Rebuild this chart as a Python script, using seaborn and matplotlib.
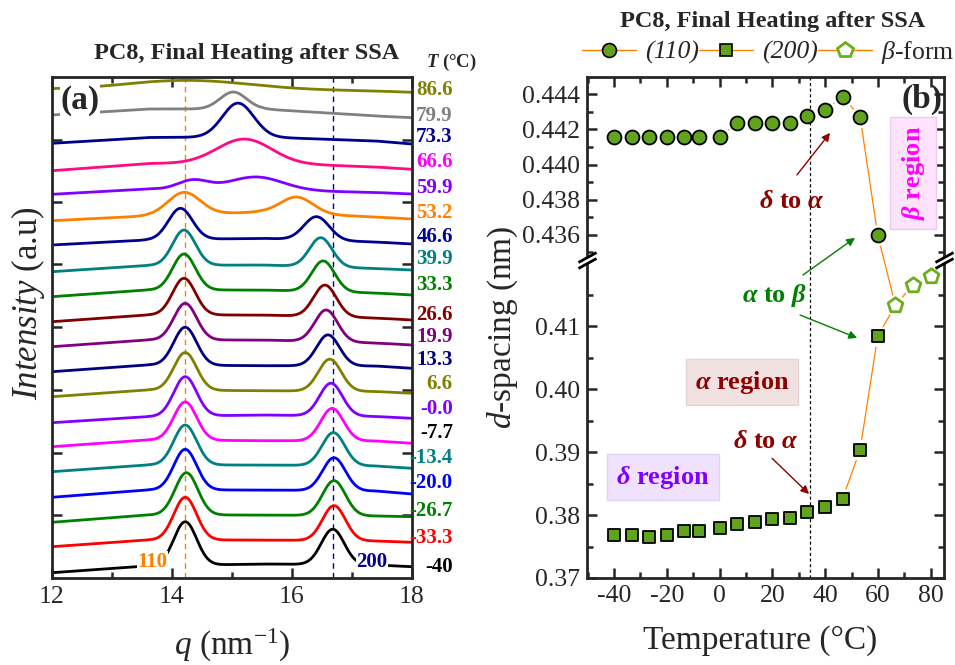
import numpy as np
import pandas as pd
import matplotlib
matplotlib.use("Agg")
import matplotlib.pyplot as plt
import seaborn as sns
from matplotlib.lines import Line2D
from matplotlib.ticker import MultipleLocator, FormatStrFormatter, FixedLocator

# ---------------- Panel (a): WAXS profiles ----------------
temps_a = ['86.6', '79.9', '73.3', '66.6', '59.9', '53.2', '46.6', '39.9', '33.3', '26.6',
           '19.9', '13.3', '6.6', '-0.0', '-7.7', '-13.4', '-20.0', '-26.7', '-33.3', '-40']
line_colors = ['#808000', '#808080', '#000090', '#FF0A84', '#8000FF', '#FF8000', '#000090', '#008080',
               '#008000', '#800000', '#800080', '#000080', '#808000', '#8000FF', '#FF00FF', '#008080',
               '#0000FF', '#008000', '#FF0000', '#000000']
label_colors = ['#808000', '#808080', '#000090', '#FF00FF', '#8000FF', '#FF8000', '#000090', '#008080',
                '#008000', '#800000', '#800080', '#000080', '#808000', '#8000FF', '#000000', '#008080',
                '#0000FF', '#008000', '#FF0000', '#000000']
# baseline intensity (a.u.) at the knots below, per curve
base_q = [12.0, 13.6, 15.5, 17.4, 18.0]
base_I = [
    [489.0, 490.0, 489.0, 487.0, 485.7],
    [463.0, 469.0, 469.0, 462.0, 460.3],
    [434.7, 440.5, 441.0, 437.0, 434.0],
    [407.3, 414.5, 415.0, 411.0, 408.7],
    [383.7, 389.0, 388.0, 385.5, 384.0],
    [357.3, 362.0, 366.0, 361.0, 359.0],
    [333.0, 338.0, 339.7, 336.0, 334.0],
    [306.3, 312.5, 313.0, 309.5, 308.0],
    [281.3, 288.0, 288.0, 285.0, 283.0],
    [256.3, 263.0, 263.0, 260.0, 258.0],
    [231.3, 238.0, 238.0, 235.0, 233.0],
    [206.3, 213.0, 212.3, 212.0, 209.7],
    [181.3, 188.0, 187.3, 186.5, 184.7],
    [155.3, 161.3, 163.0, 161.5, 159.7],
    [131.3, 138.0, 137.3, 137.0, 134.7],
    [106.3, 113.0, 113.0, 112.0, 109.7],
    [80.7, 88.0, 88.0, 87.0, 84.0],
    [55.7, 63.0, 63.0, 62.0, 61.3],
    [31.3, 38.0, 38.0, 37.0, 35.7],
    [5.3, 12.0, 14.0, 13.0, 11.3],
]
# first peak: position (nm^-1), height (a.u.), width (nm^-1)
peakA_q = [14.30, 15.02, 15.10, 15.20, 14.35, 14.20, 14.14, 14.20, 14.20, 14.20,
           14.22, 14.22, 14.22, 14.22, 14.22, 14.22, 14.22, 14.24, 14.22, 14.22]
peakA_h = [8.0, 17.0, 34.0, 24.0, 9.0, 22.4, 31.2, 35.3, 36.0, 36.7,
           36.7, 38.0, 37.7, 39.5, 38.3, 40.0, 40.7, 42.3, 42.7, 43.6]
peakA_w = [0.95, 0.22, 0.26, 0.45, 0.25, 0.27, 0.20, 0.19, 0.19, 0.19,
           0.19, 0.19, 0.19, 0.19, 0.19, 0.19, 0.19, 0.19, 0.19, 0.19]
# second peak
peakB_q = [16.0, 16.0, 16.0, 16.0, 15.40, 16.08, 16.41, 16.48, 16.52, 16.55,
           16.57, 16.60, 16.63, 16.65, 16.67, 16.69, 16.70, 16.70, 16.70, 16.68]
peakB_h = [0.0, 0.0, 0.0, 0.0, 13.0, 16.5, 23.4, 29.1, 30.7, 31.6,
           31.7, 31.0, 32.0, 32.7, 32.5, 33.0, 32.9, 35.0, 35.0, 35.4]
peakB_w = [0.2, 0.2, 0.2, 0.2, 0.45, 0.27, 0.21, 0.19, 0.19, 0.19,
           0.19, 0.19, 0.19, 0.19, 0.19, 0.19, 0.19, 0.19, 0.19, 0.19]
label_I = [488, 462, 441, 416, 390, 365, 341, 319, 293, 263,
           241, 218, 194, 169, 145, 120, 95, 67, 40, 11]
q110_ref = 14.22
q200_ref = 16.69

# ---------------- Panel (b): d-spacing ----------------
T_b = [-40.0, -33.3, -26.7, -20.0, -13.4, -7.7, 0.0, 6.6, 13.3, 19.9, 26.6, 33.3, 39.9, 46.6, 53.2, 59.9]
d110 = [0.44159, 0.44159, 0.44159, 0.44159, 0.44159, 0.44159, 0.44159, 0.44235, 0.44235, 0.44235,
        0.44235, 0.44275, 0.44311, 0.44387, 0.44273, 0.43600]
d200 = [0.37684, 0.37684, 0.37657, 0.37684, 0.37742, 0.37742, 0.37800, 0.37858, 0.37885, 0.37938,
        0.37960, 0.38044, 0.38129, 0.38261, 0.39030, 0.40840]
T_beta = [66.6, 73.3, 79.9]
d_beta = [0.41329, 0.41657, 0.41790]
T_transition = 34.3

# ---------------- style ----------------
sns.set_style("ticks")
plt.rcParams['font.family'] = ['Liberation Serif', 'DejaVu Serif']
plt.rcParams['mathtext.fontset'] = 'custom'
plt.rcParams['mathtext.rm'] = 'Liberation Serif'
plt.rcParams['mathtext.it'] = 'Liberation Serif:italic'
plt.rcParams['mathtext.bf'] = 'Liberation Serif:bold'
plt.rcParams['mathtext.sf'] = 'Liberation Serif:italic:bold'
plt.rcParams['axes.unicode_minus'] = False

W, H = 955, 665
fig = plt.figure(figsize=(W / 100, H / 100), dpi=100)


def rect(x0, y0, x1, y1):
    return [x0 / W, 1 - y1 / H, (x1 - x0) / W, (y1 - y0) / H]


ax_a = fig.add_axes(rect(52, 77, 412, 578))
ax_up = fig.add_axes(rect(587, 77, 944, 260))
ax_lo = fig.add_axes(rect(587, 260, 944, 578))

ORANGE = '#FF8000'
GREEN = '#62A31E'
GREEN2 = '#6AAE1E'
DRED = '#8B0000'
TICKFS = 18.5

# ---------------- panel (a) ----------------
q = np.linspace(12, 18, 601)
rows = []
for i, t in enumerate(temps_a):
    I = np.interp(q, base_q, base_I[i])
    I = I + peakA_h[i] * np.exp(-0.5 * ((q - peakA_q[i]) / peakA_w[i]) ** 2)
    I = I + peakB_h[i] * np.exp(-0.5 * ((q - peakB_q[i]) / peakB_w[i]) ** 2)
    rows.append(pd.DataFrame({'q': q, 'I': I, 'T': t}))
df_a = pd.concat(rows, ignore_index=True)
sns.lineplot(data=df_a, x='q', y='I', hue='T', hue_order=temps_a,
             palette=dict(zip(temps_a, line_colors)), estimator=None, sort=False,
             lw=2.0, legend=False, ax=ax_a)
ax_a.axvline(q110_ref, color=ORANGE, ls=(0, (4, 3)), lw=1.0, zorder=1)
ax_a.axvline(q200_ref, color='#00008B', ls=(0, (4, 3)), lw=1.0, zorder=1)
ax_a.set_xlim(12, 18)
ax_a.set_ylim(0, 501)
ax_a.set_xlabel('')
ax_a.set_ylabel('')
ax_a.xaxis.set_major_locator(MultipleLocator(2))
ax_a.xaxis.set_minor_locator(MultipleLocator(1))
ax_a.yaxis.set_major_locator(FixedLocator([63, 125, 188, 251, 314, 376, 438]))
ax_a.set_yticklabels([])
ax_a.tick_params(axis='both', which='both', direction='in', top=True, right=True, width=1.8)
ax_a.tick_params(axis='both', which='major', length=7, labelsize=TICKFS, pad=6)
ax_a.tick_params(axis='both', which='minor', length=4)
for s in ax_a.spines.values():
    s.set_linewidth(2.0)

for t, yv, c in zip(temps_a, label_I, label_colors):
    ax_a.text(18.68, yv, t, color=c, ha='right', va='center', fontsize=15,
              fontweight='bold', clip_on=False)
ax_a.text(13.68, 16, '110', color=ORANGE, ha='center', va='center', fontsize=15, fontweight='bold',
          bbox=dict(facecolor='white', edgecolor='none', pad=0.5), zorder=5)
ax_a.text(17.33, 16, '200', color='#00008B', ha='center', va='center', fontsize=15, fontweight='bold',
          bbox=dict(facecolor='white', edgecolor='none', pad=0.5), zorder=5)
ax_a.text(12.47, 478, '(a)', ha='center', va='center', fontsize=24, fontweight='bold',
          bbox=dict(facecolor='white', edgecolor='none', pad=0.5), zorder=5)

fig.text(247 / W, 1 - 53 / H, 'PC8, Final Heating after SSA', ha='center', va='center',
         fontsize=17.5, fontweight='bold')
fig.text(451 / W, 1 - 62 / H, r'$\mathsf{T}$ (°C)', ha='center', va='center', fontsize=13.5,
         fontweight='bold')
fig.text(232 / W, 1 - 645 / H, r'$\mathit{q}$ (nm$^{\mathrm{-1}}$)', ha='center', va='center', fontsize=24)
fig.text(28 / W, 1 - 303 / H, r'$\mathit{Intensity}$ (a.u)', ha='center', va='center', fontsize=25,
         rotation=90)

# ---------------- panel (b) ----------------
ylim_up = (0.43457, 0.44498)
ylim_lo = (0.37, 0.42048)
for ax in (ax_up, ax_lo):
    ax.set_xlim(-50.2, 85.0)
ax_up.set_ylim(*ylim_up)
ax_lo.set_ylim(*ylim_lo)

# convert points across the broken axis so the joining segment is straight on screen
pent0_in_up = ax_up.transData.inverted().transform(ax_lo.transData.transform((T_beta[0], d_beta[0])))
circ_last_in_lo = ax_lo.transData.inverted().transform(ax_up.transData.transform((T_b[-1], d110[-1])))

line_kw = dict(color=ORANGE, lw=0.9, estimator=None, sort=False, legend=False, zorder=2)
sns.lineplot(x=T_b + [pent0_in_up[0]], y=d110 + [pent0_in_up[1]], ax=ax_up, **line_kw)
sns.lineplot(x=T_b + [T_beta[0]], y=d200 + [d_beta[0]], ax=ax_lo, **line_kw)
sns.lineplot(x=[circ_last_in_lo[0], T_beta[0]], y=[circ_last_in_lo[1], d_beta[0]], ax=ax_lo, **line_kw)
sns.lineplot(x=T_beta, y=d_beta, ax=ax_lo, **line_kw)

# white halos give the gap between line and symbol
halo = dict(marker='o', s=230, color='white', linewidth=0, zorder=3, legend=False)
sns.scatterplot(x=T_b, y=d110, ax=ax_up, **halo)
sns.scatterplot(x=T_b, y=d200, ax=ax_lo, **halo)
sns.scatterplot(x=T_beta, y=d_beta, ax=ax_lo, **halo)

for ax in (ax_up, ax_lo):
    ax.axvline(T_transition, color='black', ls=(0, (2.5, 2)), lw=0.9, zorder=3.5)

sns.scatterplot(x=T_b, y=d110, ax=ax_up, marker='o', s=100, color=GREEN, edgecolor='black',
                linewidth=1.3, zorder=4, legend=False)
sns.scatterplot(x=T_b, y=d200, ax=ax_lo, marker='s', s=80, color=GREEN, edgecolor='black',
                linewidth=1.3, zorder=4, legend=False)
sns.scatterplot(x=T_beta, y=d_beta, ax=ax_lo, marker='p', s=125, color='white', edgecolor=GREEN2,
                linewidth=2.0, zorder=4, legend=False)

ax_up.set_ylim(*ylim_up)
ax_lo.set_ylim(*ylim_lo)
for ax in (ax_up, ax_lo):
    ax.set_xlim(-50.2, 85.0)
    ax.set_xlabel('')
    ax.set_ylabel('')
    ax.xaxis.set_major_locator(MultipleLocator(20))
    ax.xaxis.set_minor_locator(MultipleLocator(10))
    for s in ax.spines.values():
        s.set_linewidth(2.0)

ax_up.yaxis.set_major_locator(MultipleLocator(0.002))
ax_up.yaxis.set_minor_locator(MultipleLocator(0.001))
ax_up.yaxis.set_major_formatter(FormatStrFormatter('%.3f'))
ax_up.spines['bottom'].set_visible(False)
ax_up.tick_params(axis='x', which='both', direction='in', bottom=False, top=True,
                  labelbottom=False, labeltop=False, width=1.8)
ax_up.tick_params(axis='y', which='both', direction='in', left=True, right=True, width=1.8)

ax_lo.yaxis.set_major_locator(FixedLocator([0.37, 0.38, 0.39, 0.40, 0.41]))
ax_lo.yaxis.set_minor_locator(FixedLocator([0.375, 0.385, 0.395, 0.405, 0.415]))
ax_lo.yaxis.set_major_formatter(FormatStrFormatter('%.2f'))
ax_lo.spines['top'].set_visible(False)
ax_lo.tick_params(axis='x', which='both', direction='in', bottom=True, top=False, width=1.8)
ax_lo.tick_params(axis='y', which='both', direction='in', left=True, right=True, width=1.8)
for ax in (ax_up, ax_lo):
    ax.tick_params(which='major', length=7, labelsize=TICKFS, pad=5)
    ax.tick_params(which='minor', length=4)

# break marks
off = 0.011
for xa in (0, 1):
    ax_lo.plot([xa, xa], [1 - off * 0.9, 1 + off * 0.9], transform=ax_lo.transAxes, color='white',
               lw=4, clip_on=False, zorder=10, solid_capstyle='butt')
    for yo in (-off, off):
        ax_lo.plot([xa], [1 + yo], transform=ax_lo.transAxes, marker=[(-1, -0.55), (1, 0.55)],
                   markersize=13, mew=2.0, color='black', linestyle='none', clip_on=False, zorder=11)

# annotations
ax_up.text(76.7, 0.44373, '(b)', ha='center', va='center', fontsize=24, fontweight='bold', zorder=6)
ax_up.text(73.3, 0.43952, r'$\mathsf{β}$ region', rotation=90, ha='center', va='center', fontsize=19,
           fontweight='bold', color='#FF00FF', zorder=6,
           bbox=dict(boxstyle='square,pad=0.35', facecolor='#FFE2FC', edgecolor='#F2C8F0', lw=1))
ax_up.annotate('', xy=(41.85, 0.4418), xytext=(29.3, 0.43941),
               arrowprops=dict(arrowstyle='-|>', color=DRED, lw=1.0, mutation_scale=12, shrinkA=0, shrinkB=0),
               zorder=6)
ax_up.text(27.45, 0.43788, r'$\mathsf{δ}$ to $\mathsf{α}$', ha='center', va='center', fontsize=19,
           fontweight='bold', color=DRED, zorder=6)

ax_lo.text(21.0, 0.4149, r'$\mathsf{α}$ to $\mathsf{β}$', ha='center', va='center', fontsize=19,
           fontweight='bold', color='#008000', zorder=6)
ax_lo.annotate('', xy=(51.3, 0.43583), xycoords=ax_up.transData, xytext=(31.6, 0.4181), textcoords='data',
               arrowprops=dict(arrowstyle='-|>', color='#008000', lw=1.0, mutation_scale=12, shrinkA=0, shrinkB=0),
               zorder=6)
ax_lo.annotate('', xy=(52.1, 0.4081), xytext=(30.5, 0.41175),
               arrowprops=dict(arrowstyle='-|>', color='#008000', lw=1.0, mutation_scale=12, shrinkA=0, shrinkB=0),
               zorder=6)
ax_lo.text(8.5, 0.40111, r'$\mathsf{α}$ region', ha='center', va='center', fontsize=19, fontweight='bold',
           color=DRED, zorder=6,
           bbox=dict(boxstyle='square,pad=0.35', facecolor='#F1E2E1', edgecolor='#E6D2D2', lw=1))
ax_lo.text(17.6, 0.39159, r'$\mathsf{δ}$ to $\mathsf{α}$', ha='center', va='center', fontsize=19,
           fontweight='bold', color=DRED, zorder=6)
ax_lo.annotate('', xy=(33.9, 0.38333), xytext=(19.9, 0.3890),
               arrowprops=dict(arrowstyle='-|>', color=DRED, lw=1.0, mutation_scale=12, shrinkA=0, shrinkB=0),
               zorder=6)
ax_lo.text(-21.4, 0.38603, r'$\mathsf{δ}$ region', ha='center', va='center', fontsize=19, fontweight='bold',
           color='#8000FF', zorder=6,
           bbox=dict(boxstyle='square,pad=0.35', facecolor='#F0E2FF', edgecolor='#E2D0F6', lw=1))

fig.text(773 / W, 1 - 22 / H, 'PC8, Final Heating after SSA', ha='center', va='center',
         fontsize=17.5, fontweight='bold')
fig.text(760 / W, 1 - 641 / H, 'Temperature (°C)', ha='center', va='center', fontsize=24)
fig.text(503 / W, 1 - 327 / H, r'$\mathit{d}$-spacing (nm)', ha='center', va='center', fontsize=24,
         rotation=90)

handles = [
    Line2D([], [], color=ORANGE, lw=1, marker='o', ms=10, mfc=GREEN, mec='black', mew=1.2),
    Line2D([], [], color=ORANGE, lw=1, marker='s', ms=9, mfc=GREEN, mec='black', mew=1.2),
    Line2D([], [], color=ORANGE, lw=1, marker='p', ms=11.5, mfc='white', mec=GREEN2, mew=2.0),
]
leg = fig.legend(handles, ['(110)', '(200)', r'$\mathit{β}$-form'], loc='center',
                 bbox_to_anchor=(768 / W, 1 - 52 / H), ncol=3, frameon=False, fontsize=18.5,
                 handlelength=2.1, handletextpad=0.35, columnspacing=0.0, borderpad=0)
leg.get_texts()[0].set_style('italic')
leg.get_texts()[1].set_style('italic')

fig.savefig('out.png', dpi=100)
